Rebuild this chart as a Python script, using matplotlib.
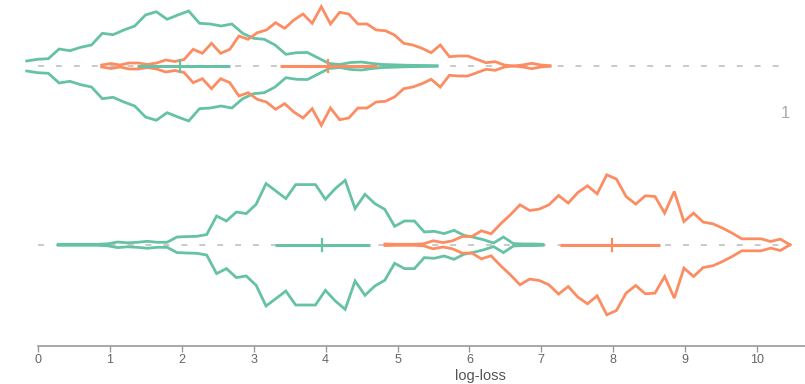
import numpy as np
import matplotlib
matplotlib.use("Agg")
import matplotlib.pyplot as plt

plt.rcParams["font.family"] = ["Liberation Sans Narrow", "Liberation Sans", "DejaVu Sans"]
plt.rcParams["lines.scale_dashes"] = False

# Log-loss density profiles (upper half of each mirrored violin)
row1_green_range = (-0.157, 5.55)
row1_green_density = [5, 6.7, 7.3, 17, 15.3, 18.7, 21, 32.7, 31.3, 36, 40, 51, 54.3,
                      46.7, 51, 55, 42.7, 42, 40, 42, 32.7, 27.7, 26.7, 21, 11.7, 13.3,
                      13.5, 8, 2.5, 1.5, 3.5, 4, 2.5, 1.5, 1.2, 0.8, 0.6, 0.5, 0.3]

row1_orange_range = (0.886, 7.122)
row1_orange_density = [1, 2.5, 1, 3, 3, 1.5, 3, 6, 4.5, 6.5, 16.7, 12.7, 22.7, 12.7,
                       16.7, 30, 26.7, 33.3, 36, 43.3, 37.7, 46, 52, 42.7, 59.3, 42,
                       53.7, 52, 42, 42, 36, 35.3, 31, 22.7, 21, 17.7, 13.3, 21, 9.3,
                       10, 10, 6.7, 3.3, 4.3, 1, 0, 1, 2.7, 1, 0.3]

row2_green_range = (0.282, 7.024)
row2_green_density = [0.5, 0.5, 0.5, 0.5, 0.5, 1, 2.8, 2, 2.5, 3.5, 2.5, 2.5, 7.8, 8.2,
                      8.5, 10.2, 28.8, 23.8, 32.8, 31.2, 40.5, 61.2, 53.8, 46.2, 60.2,
                      60.2, 60.2, 45.5, 56.2, 64.5, 36.2, 50.5, 41.2, 35.5, 18.5, 23.8,
                      23.8, 12.8, 13.5, 11.2, 14.5, 9.5, 7.5, 5, 1.8, 7.8, 1.2, 0.8,
                      0.8, 0.5]

row2_orange_range = (4.826, 10.459)
row2_orange_density = [0.8, 0.5, 0.5, 0.5, 1, 4, 2.2, 4, 8.3, 8.3, 14, 11, 21, 30, 40,
                       34.3, 35.7, 40, 49.3, 41.7, 52.3, 59, 51, 70, 65.7, 48.3, 40.7,
                       49, 48.3, 31.7, 53.3, 23.3, 31.7, 22.7, 21, 16.7, 11.7, 6, 6, 6,
                       3.3, 5.7, 0]

# Summary intervals: (low, median, high)
row1_green_box = (1.377, 1.975, 2.67)
row1_orange_box = (3.366, 4.04, 4.71)
row2_green_box = (3.296, 3.946, 4.617)
row2_orange_box = (7.26, 7.98, 8.65)

xticks = list(range(11))
row_label = "1"

GREEN = "#66c2a5"
ORANGE = "#fc8d62"

fig = plt.figure(figsize=(8.05, 3.84), dpi=100)
ax = fig.add_axes([38 / 805, 38 / 384, 767 / 805, 346 / 384])
ax.set_xlim(0, 767 / 71.9)
ax.set_ylim(0, 346)

row_centers = [280, 101.2]
for yc, dash_end in zip(row_centers, [10.36, 10.45]):
    ax.plot([0, dash_end], [yc, yc], color="#bbbbbb", lw=1.1,
            linestyle=(0, (4.3, 8.6)), zorder=1)


def violin(rng, dens, yc, color):
    x = np.linspace(rng[0], rng[1], len(dens))
    d = np.asarray(dens, dtype=float)
    for sign in (1, -1):
        ax.plot(x, yc + sign * d, color=color, lw=2.0, zorder=3,
                solid_joinstyle="miter", clip_on=False)


def box(stats, yc, color):
    lo, med, hi = stats
    ax.plot([lo, hi], [yc, yc], color=color, lw=2.2, zorder=4, solid_capstyle="butt")
    ax.plot([med, med], [yc - 6, yc + 6], color=color, lw=1.6, zorder=4)


violin(row1_green_range, row1_green_density, row_centers[0], GREEN)
violin(row1_orange_range, row1_orange_density, row_centers[0], ORANGE)
violin(row2_green_range, row2_green_density, row_centers[1], GREEN)
violin(row2_orange_range, row2_orange_density, row_centers[1], ORANGE)

box(row1_green_box, row_centers[0], GREEN)
box(row1_orange_box, row_centers[0], ORANGE)
box(row2_green_box, row_centers[1], GREEN)
box(row2_orange_box, row_centers[1], ORANGE)

ax.text(10.39, 232, row_label, color="#aaaaaa", fontsize=12, ha="center", va="center")

for side in ["left", "right", "top"]:
    ax.spines[side].set_visible(False)
ax.spines["bottom"].set_color("#999999")
ax.spines["bottom"].set_linewidth(1.2)
ax.set_yticks([])
ax.set_xticks(xticks)
ax.set_xticklabels([str(t) for t in xticks])
ax.tick_params(axis="x", direction="out", length=4, width=1, color="#999999",
               labelcolor="#666666", labelsize=9, pad=2)
ax.text(6.15, -30, "log-loss", color="#555555", fontsize=10.5, ha="center",
        va="center", clip_on=False)

fig.savefig("out.png", dpi=100)
